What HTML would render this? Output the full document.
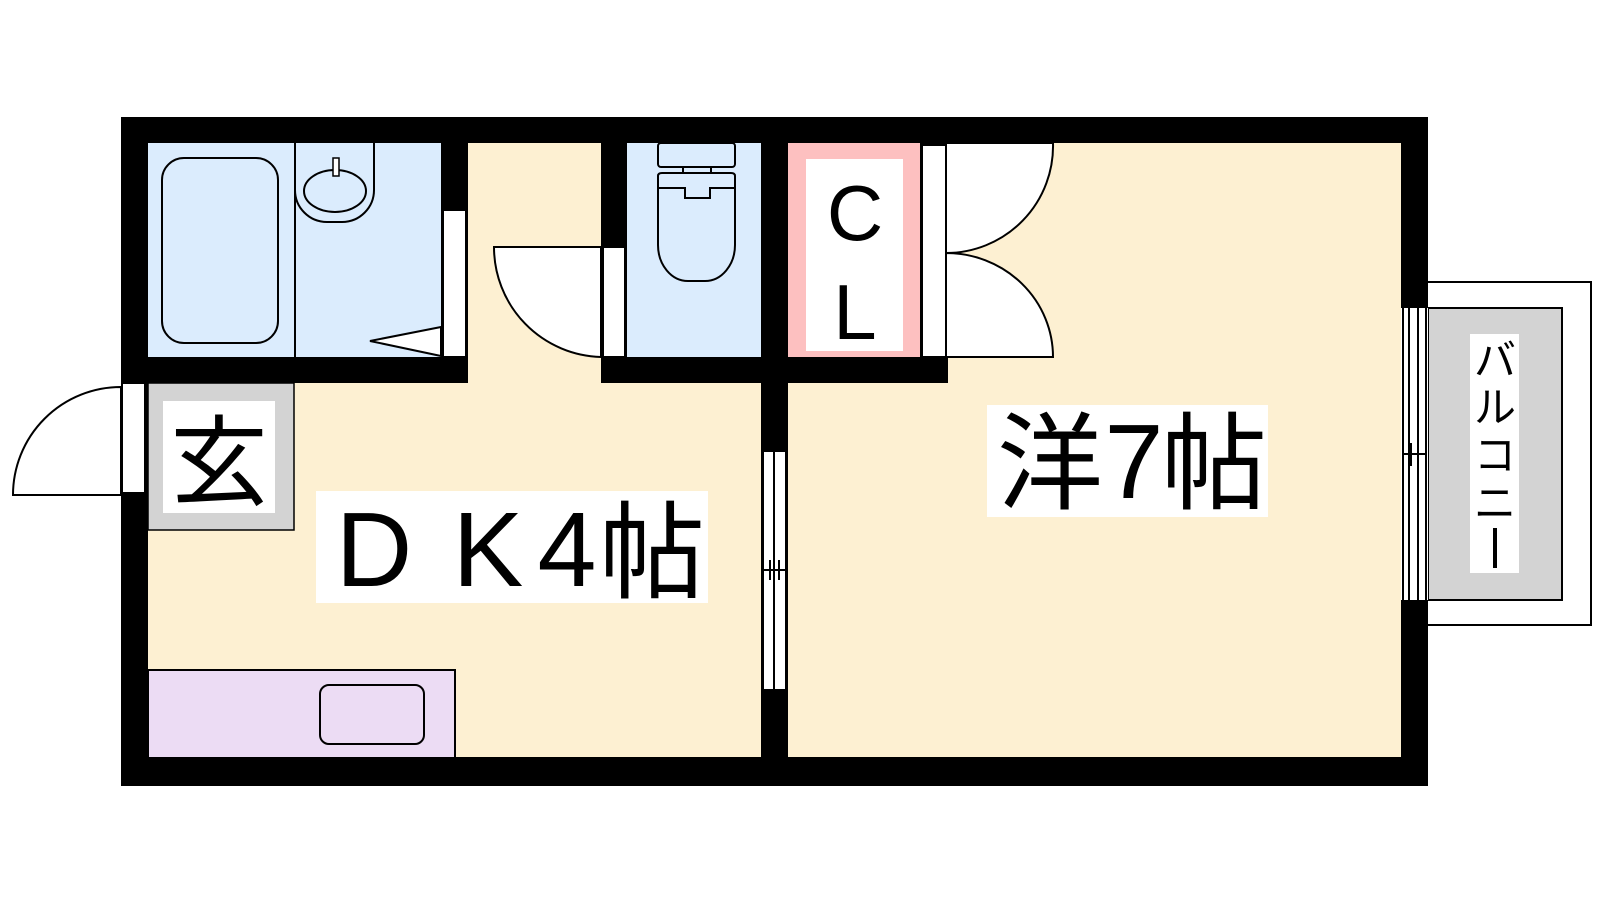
<!DOCTYPE html>
<html><head><meta charset="utf-8"><style>html,body{margin:0;padding:0;background:#fff}svg{display:block}</style></head><body>
<svg width="1600" height="900" viewBox="0 0 1600 900" xmlns="http://www.w3.org/2000/svg" font-family="'Liberation Sans','Noto Sans CJK JP',sans-serif">
<rect width="1600" height="900" fill="#fff"/>
<line x1="1428" y1="282" x2="1592" y2="282" stroke="#000" stroke-width="2"/>
<line x1="1428" y1="625" x2="1592" y2="625" stroke="#000" stroke-width="2"/>
<line x1="1591" y1="282" x2="1591" y2="625" stroke="#000" stroke-width="2"/>
<rect x="1428" y="308" width="134" height="292" fill="#d3d3d3" stroke="#000" stroke-width="2"/>
<rect x="1470" y="334" width="49" height="239" fill="#fff"/>
<text x="1495" y="375" font-size="42" text-anchor="middle">バ</text>
<text x="1495" y="422" font-size="42" text-anchor="middle">ル</text>
<text x="1495" y="470" font-size="42" text-anchor="middle">コ</text>
<text x="1495" y="518" font-size="42" text-anchor="middle">ニ</text>
<rect x="1493" y="528" width="4" height="40" fill="#000"/>
<rect x="121" y="117" width="1307" height="669" fill="#000"/>
<rect x="148" y="143" width="1253" height="614" fill="#fdf0d2"/>
<rect x="148" y="143" width="293" height="214" fill="#dbecfd"/>
<rect x="627" y="143" width="134" height="214" fill="#dbecfd"/>
<rect x="788" y="143" width="132" height="214" fill="#fdc0c0"/>
<rect x="806" y="159" width="97" height="192" fill="#fff"/>
<rect x="121" y="357" width="347" height="26" fill="#000"/>
<rect x="441" y="143" width="27" height="240" fill="#000"/>
<rect x="601" y="143" width="26" height="240" fill="#000"/>
<rect x="601" y="357" width="347" height="26" fill="#000"/>
<rect x="761" y="143" width="27" height="614" fill="#000"/>
<rect x="920" y="143" width="28" height="240" fill="#000"/>
<rect x="443" y="210" width="23" height="147" fill="#fff" stroke="#000" stroke-width="2"/>
<rect x="603" y="247" width="22" height="110" fill="#fff" stroke="#000" stroke-width="2"/>
<rect x="922" y="145" width="24" height="212" fill="#fff" stroke="#000" stroke-width="2"/>
<rect x="122" y="383" width="23" height="110" fill="#fff" stroke="#000" stroke-width="2"/>
<rect x="763" y="451" width="23" height="239" fill="#fff" stroke="#000" stroke-width="2"/>
<line x1="774" y1="451" x2="774" y2="690" stroke="#000" stroke-width="2"/>
<line x1="763" y1="570" x2="786" y2="570" stroke="#000" stroke-width="2"/>
<line x1="770" y1="560" x2="770" y2="580" stroke="#000" stroke-width="2"/>
<line x1="779" y1="560" x2="779" y2="580" stroke="#000" stroke-width="2"/>
<rect x="1401" y="308" width="27" height="292" fill="#fff"/>
<g stroke="#000" stroke-width="2"><line x1="1403" y1="308" x2="1403" y2="600"/><line x1="1409" y1="308" x2="1409" y2="600"/><line x1="1418" y1="308" x2="1418" y2="600"/><line x1="1426" y1="308" x2="1426" y2="600"/><line x1="1403" y1="454" x2="1426" y2="454"/><line x1="1411" y1="443" x2="1411" y2="466"/></g>
<path d="M13 495 A108 108 0 0 1 121 387 L121 495 Z" fill="#fff" stroke="#000" stroke-width="2"/>
<path d="M494 247 L601 247 L601 357 A110 110 0 0 1 494 247 Z" fill="#fff" stroke="#000" stroke-width="2"/>
<path d="M946 143 L1053 143 A107 107 0 0 1 946 253 Z" fill="#fff" stroke="#000" stroke-width="2"/>
<path d="M946 253 A107 104 0 0 1 1053 357 L946 357 Z" fill="#fff" stroke="#000" stroke-width="2"/>
<polygon points="441,327 370,341 441,356" fill="#fff" stroke="#000" stroke-width="2"/>
<rect x="162" y="158" width="116" height="185" rx="22" fill="none" stroke="#000" stroke-width="2"/>
<line x1="295" y1="143" x2="295" y2="357" stroke="#000" stroke-width="2"/>
<path d="M295 143 L295 190 A32 32 0 0 0 327 222 L342 222 A32 32 0 0 0 374 190 L374 143" fill="none" stroke="#000" stroke-width="2"/>
<ellipse cx="335" cy="191" rx="31" ry="21" fill="none" stroke="#000" stroke-width="2"/>
<rect x="333" y="158" width="6" height="18" fill="#fff" stroke="#000" stroke-width="1.5"/>
<rect x="658" y="143" width="77" height="24" rx="3" fill="none" stroke="#000" stroke-width="2"/>
<path d="M658 176 Q658 173 662 173 L731 173 Q735 173 735 176 L735 245 A30 36 0 0 1 705 281 L688 281 A30 36 0 0 1 658 245 Z" fill="none" stroke="#000" stroke-width="2"/>
<path d="M658 188 L685 188 L685 198 L710 198 L710 188 L735 188" fill="none" stroke="#000" stroke-width="2"/>
<line x1="683" y1="167" x2="683" y2="173" stroke="#000" stroke-width="2"/>
<line x1="711" y1="167" x2="711" y2="173" stroke="#000" stroke-width="2"/>
<rect x="148" y="383" width="146" height="147" fill="#d3d3d3" stroke="#000" stroke-width="1.5"/>
<rect x="163" y="401" width="112" height="112" fill="#fff"/>
<text x="219" y="497" font-size="98" text-anchor="middle">玄</text>
<rect x="148" y="670" width="307" height="88" fill="#ecdcf4" stroke="#000" stroke-width="2"/>
<rect x="320" y="685" width="104" height="59" rx="9" fill="none" stroke="#000" stroke-width="2"/>
<text x="855" y="240" font-size="78" text-anchor="middle">C</text>
<text x="855" y="339" font-size="78" text-anchor="middle">L</text>
<rect x="316" y="491" width="392" height="112" fill="#fff"/>
<text x="374" y="586" font-size="106" text-anchor="middle">D</text>
<text x="488" y="586" font-size="106" text-anchor="middle">K</text>
<text x="567" y="586" font-size="106" text-anchor="middle">4</text>
<text x="652" y="590" font-size="106" text-anchor="middle">帖</text>
<rect x="987" y="405" width="281" height="112" fill="#fff"/>
<text x="1050" y="501" font-size="106" text-anchor="middle">洋</text>
<text x="1134" y="498" font-size="106" text-anchor="middle">7</text>
<text x="1214" y="501" font-size="106" text-anchor="middle">帖</text>
</svg>
</body></html>
